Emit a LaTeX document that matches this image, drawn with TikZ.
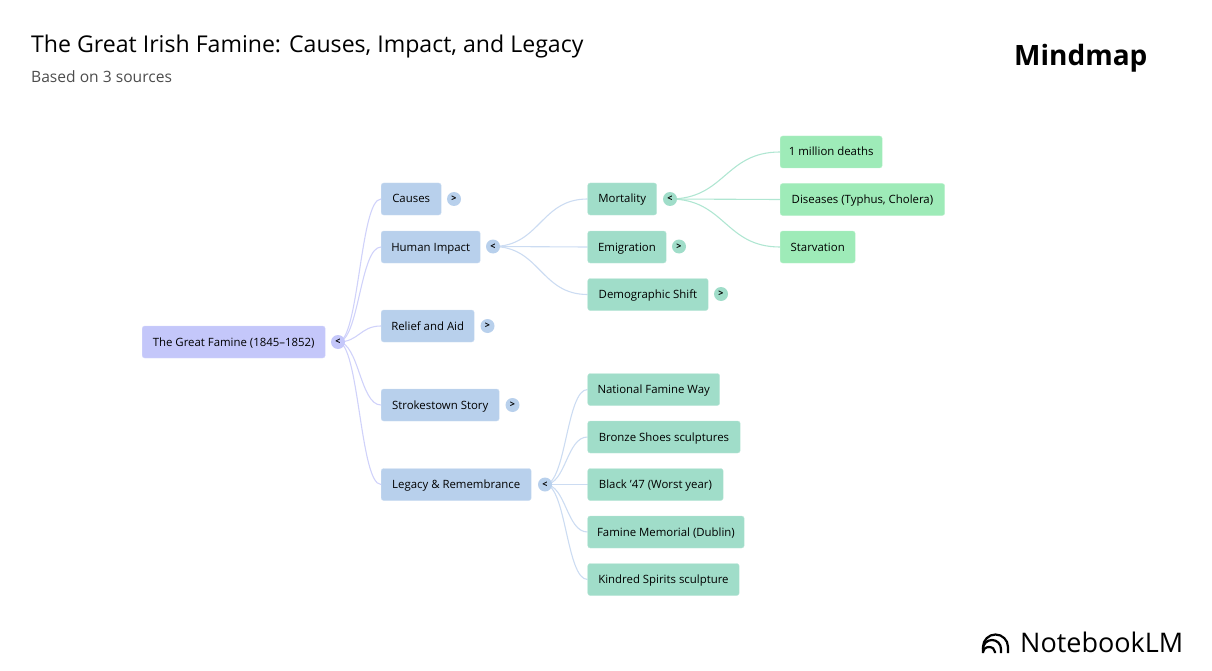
\documentclass[tikz,border=0pt]{standalone}
\usepackage{fontspec}
\setmainfont{Open Sans}
\usetikzlibrary{positioning, calc, backgrounds}
\definecolor{rootbg}{RGB}{196,199,250}
\definecolor{topicbg}{RGB}{184,208,236}
\definecolor{subbg}{RGB}{160,221,201}
\definecolor{leafbg}{RGB}{158,235,184}
\definecolor{rootline}{RGB}{208,210,250}
\definecolor{topicline}{RGB}{204,220,242}
\definecolor{subline}{RGB}{176,230,210}

\begin{document}
\begin{tikzpicture}[
        x=1pt, y=-1pt,
        box/.style={rounded corners=2.5pt, anchor=west, minimum height=32pt, inner xsep=0pt,
                    inner ysep=0pt, text height=10pt, text depth=2pt, text=black,
                    font=\fontsize{11.4}{14}\selectfont},
        rootbox/.style={box, fill=rootbg, draw=rootbg!70},
        topicbox/.style={box, fill=topicbg, draw=topicbg!70},
        subbox/.style={box, fill=subbg, draw=subbg!70},
        leafbox/.style={box, fill=leafbg, draw=leafbg!70},
        toggle/.style={circle, minimum size=14pt, inner sep=0pt,
                       font=\bfseries\fontsize{9}{9}\selectfont},
        link/.style={line width=1.1pt},
        rootlink/.style={link, draw=rootline},
        topiclink/.style={link, draw=topicline},
        sublink/.style={link, draw=subline},
        logoarc/.style={line width=2.2pt, line cap=butt},
    ]

    \useasboundingbox (0,0) rectangle (1212,671);

    % ---------- Heading ------------------------------------
    \node[anchor=west, inner sep=0pt, font=\fontsize{23.1}{28}\selectfont] (title) at (31,46.5)
        {The Great Irish Famine: Causes, Impact, and Legacy};
    \node[anchor=west, inner sep=0pt, text=black!70, font=\fontsize{15.6}{19}\selectfont] (sources) at (31,77)
        {Based on 3 sources};
    \node[anchor=west, inner sep=0pt, font=\bfseries\fontsize{28}{34}\selectfont] (mindmap) at (1014,58) {Mindmap};

    % ---------- Root ------------------------------------
    \node[rootbox, minimum width=183pt] (famine) at (142,342) {The Great Famine (1845--1852)};
    \node[toggle, fill=rootbg] (famineT) at (338,342) {<};

    % ---------- Topics ------------------------------------
    \node[topicbox, minimum width=60pt] (causes) at (381,199) {Causes};
    \node[topicbox, minimum width=99pt] (human) at (381,247) {Human Impact};
    \node[topicbox, minimum width=93pt] (relief) at (381,326) {Relief and Aid};
    \node[topicbox, minimum width=118pt] (stroke) at (381,405) {Strokestown Story};
    \node[topicbox, minimum width=150pt] (legacy) at (381,484.5) {Legacy \& Remembrance};

    \node[toggle, fill=topicbg] (causesT) at (454,199) {>};
    \node[toggle, fill=topicbg] (humanT) at (493,246.5) {<};
    \node[toggle, fill=topicbg] (reliefT) at (487.5,326) {>};
    \node[toggle, fill=topicbg] (strokeT) at (512.5,405) {>};
    \node[toggle, fill=topicbg] (legacyT) at (545,484.5) {<};

    % ---------- Human impact ------------------------------------
    \node[subbox, minimum width=69pt] (mortality) at (587.5,199) {Mortality};
    \node[subbox, minimum width=78.5pt] (emigration) at (587.5,247) {Emigration};
    \node[subbox, minimum width=120.5pt] (shift) at (587.5,294.5) {Demographic Shift};

    \node[toggle, fill=subbg] (mortalityT) at (670,199) {<};
    \node[toggle, fill=subbg] (emigrationT) at (679,246.5) {>};
    \node[toggle, fill=subbg] (shiftT) at (721,294) {>};

    \node[leafbox, minimum width=102pt] (deaths) at (780,152) {1 million deaths};
    \node[leafbox, minimum width=164.5pt] (diseases) at (780,199.5) {Diseases (Typhus, Cholera)};
    \node[leafbox, minimum width=75pt] (starvation) at (780,247) {Starvation};

    % ---------- Legacy ------------------------------------
    \node[subbox, minimum width=132pt] (way) at (587.5,389.5) {National Famine Way};
    \node[subbox, minimum width=152.5pt] (shoes) at (587.5,437) {Bronze Shoes sculptures};
    \node[subbox, minimum width=135.5pt] (black) at (587.5,484.5) {Black '47 (Worst year)};
    \node[subbox, minimum width=156.5pt] (memorial) at (587.5,532) {Famine Memorial (Dublin)};
    \node[subbox, minimum width=151.5pt] (spirits) at (587.5,579.5) {Kindred Spirits sculpture};

    % ---------- Links ------------------------------------
    \begin{pgfonlayer}{background}
        \foreach \a in {causes, human, relief, stroke, legacy}
            \draw[rootlink] (famineT.center) .. controls +(21,0) and +(-21,0) .. (\a.west);
        \foreach \a in {mortality, emigration, shift}
            \draw[topiclink] (humanT.center) .. controls +(47,0) and +(-47,0) .. (\a.west);
        \foreach \a in {way, shoes, black, memorial, spirits}
            \draw[topiclink] (legacyT.center) .. controls +(21,0) and +(-21,0) .. (\a.west);
        \foreach \a in {deaths, diseases, starvation}
            \draw[sublink] (mortalityT.center) .. controls +(55,0) and +(-55,0) .. (\a.west);
    \end{pgfonlayer}

    % ---------- Logo ------------------------------------
    \node[anchor=west, inner sep=0pt, font=\fontsize{27}{32}\selectfont] (brand) at (1020,642.5) {NotebookLM};
    \draw[logoarc] (983,653) -- (983,647) arc[start angle=180, end angle=0, x radius=12.5pt, y radius=12.5pt] -- (1008,653);
    \draw[logoarc] (983,649) arc[start angle=180, end angle=0, x radius=9pt, y radius=9pt] -- (1001,653);
    \draw[logoarc] (983,652) arc[start angle=180, end angle=0, x radius=6pt, y radius=5pt] -- (995,653);
\end{tikzpicture}
\end{document}
